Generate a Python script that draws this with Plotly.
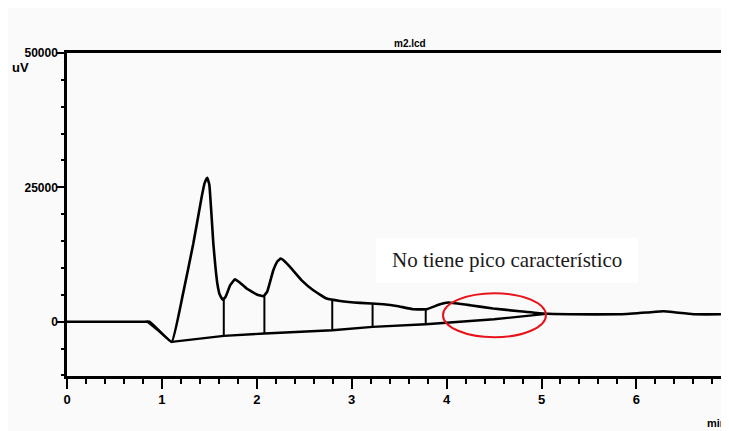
import plotly.graph_objects as go

# Chromatogram trace (time in min, signal in uV)
time_min = [0.0, 0.4, 0.8, 0.87, 1.103, 1.22, 1.331, 1.419, 1.45, 1.478, 1.50, 1.542,
            1.565, 1.584, 1.61, 1.641, 1.67, 1.72, 1.77, 1.82, 1.893, 2.0, 2.07, 2.11,
            2.174, 2.22, 2.252, 2.29, 2.35, 2.473, 2.595, 2.736, 2.877, 3.087,
            3.333, 3.474, 3.65, 3.79, 3.93, 4.018, 4.247, 4.49, 4.77, 5.02, 5.3, 5.83,
            6.11, 6.285, 6.42, 6.6, 7.06]
signal_uv = [0, 0, 0, 0, -3755, 5000, 14540, 23200, 25800, 26800, 25500, 14540,
             10000, 7100, 5000, 4100, 4600, 6800, 7900, 7300, 6170, 5060, 4740, 5600,
             9570, 11300, 11750, 11300, 10190, 7700, 5860, 4310, 3870, 3500,
             3250, 2940, 2320, 2320, 3250, 3570, 3070, 2450, 1950, 1520, 1390, 1390,
             1710, 1950, 1710, 1390, 1390]

# Second faint line at injection dip
dip_time = [0.84, 1.103]
dip_uv = [0, -3755]

# Integration baseline
base_time = [1.103, 1.652, 2.08, 2.795, 3.22, 3.78, 4.5, 5.05]
base_uv = [-3755, -2640, -2190, -1580, -960, -465, 450, 1450]

# Peak drop lines
drop_time = [1.652, 2.08, 2.795, 3.22, 3.78]
drop_base = [-2640, -2190, -1580, -960, -465]
drop_top = [4150, 4740, 4100, 3250, 2320]

y_tickvals = [0, 25000, 50000]
y_ticktext = ["0", "25000", "50000"]
x_tickvals = [0, 1, 2, 3, 4, 5, 6]

title_text = "m2.lcd"
note_text = "No tiene pico característico"

fig = go.Figure()
fig.add_trace(go.Scatter(x=time_min, y=signal_uv, mode="lines",
                         line=dict(color="black", width=2.6, shape="spline", smoothing=0.3),
                         hoverinfo="skip", showlegend=False))
fig.add_trace(go.Scatter(x=dip_time, y=dip_uv, mode="lines",
                         line=dict(color="black", width=1.5), showlegend=False, hoverinfo="skip"))
fig.add_trace(go.Scatter(x=base_time, y=base_uv, mode="lines",
                         line=dict(color="black", width=2.4), showlegend=False, hoverinfo="skip"))
dx, dy = [], []
for t, b, tp in zip(drop_time, drop_base, drop_top):
    dx += [t, t, None]
    dy += [b, tp, None]
fig.add_trace(go.Scatter(x=dx, y=dy, mode="lines",
                         line=dict(color="black", width=2), showlegend=False, hoverinfo="skip"))

ytickfont = dict(family="Liberation Sans, Arial, sans-serif", size=12, color="black", weight="bold")
xtickfont = dict(family="Liberation Sans, Arial, sans-serif", size=13, color="black", weight="bold")

# plot area in window pixels: x 67..737 (clipped at 729), y 53..376
W = 670.0
H = 323.0
def px(xw):
    return (xw - 67) / W
def py(yw):
    return (376 - yw) / H

fig.update_layout(
    width=729, height=423,
    margin=dict(l=59, r=0, t=45, b=55),
    paper_bgcolor="#fafafa", plot_bgcolor="#fafafa",
    xaxis=dict(range=[0, 7.06], tickvals=x_tickvals, ticks="outside", ticklen=10,
               tickwidth=2, tickcolor="black", showline=True, linecolor="black",
               linewidth=2.5, mirror=True, showgrid=False, zeroline=False,
               tickfont=xtickfont, ticklabelstandoff=0,
               minor=dict(dtick=0.2, ticks="outside", ticklen=5, tickwidth=1.5,
                          tickcolor="black")),
    yaxis=dict(range=[-10100, 50000], tickvals=y_tickvals, ticktext=y_ticktext,
               ticks="outside", ticklen=7, tickwidth=2, tickcolor="black",
               showline=True, linecolor="black", linewidth=2.5, showgrid=False,
               zeroline=False, tickfont=ytickfont, ticklabelstandoff=-3,
               minor=dict(dtick=5000, ticks="outside", ticklen=3, tickwidth=2,
                          tickcolor="black")),
    shapes=[
        dict(type="rect", xref="paper", yref="paper",
             x0=px(376), x1=px(638), y0=py(283), y1=py(238),
             fillcolor="white", line=dict(width=0), layer="above"),
        dict(type="circle", xref="x", yref="y", x0=3.962, x1=5.047, y0=-2880, y1=5300,
             line=dict(color="#e8141b", width=2)),
    ],
    annotations=[
        dict(text=title_text, xref="paper", yref="paper", x=px(410), y=py(44),
             xanchor="center", yanchor="middle", showarrow=False,
             font=dict(family="Liberation Sans, sans-serif", size=10,
                       color="black", weight="bold")),
        dict(text="uV", xref="paper", yref="paper", x=px(20), y=py(68),
             xanchor="center", yanchor="middle", showarrow=False,
             font=dict(family="Liberation Sans, sans-serif", size=13,
                       color="black", weight="bold")),
        dict(text="min", xref="paper", yref="paper", x=px(729), y=py(423),
             xanchor="right", yanchor="middle", showarrow=False,
             font=dict(family="Liberation Sans, sans-serif", size=11,
                       color="black", weight="bold")),
        dict(text=note_text, xref="paper", yref="paper", x=px(507), y=py(260),
             xanchor="center", yanchor="middle", showarrow=False,
             font=dict(family="Liberation Serif, Times New Roman, serif", size=21,
                       color="#1a1a1a")),
    ],
)

fig.write_html("out.html")
